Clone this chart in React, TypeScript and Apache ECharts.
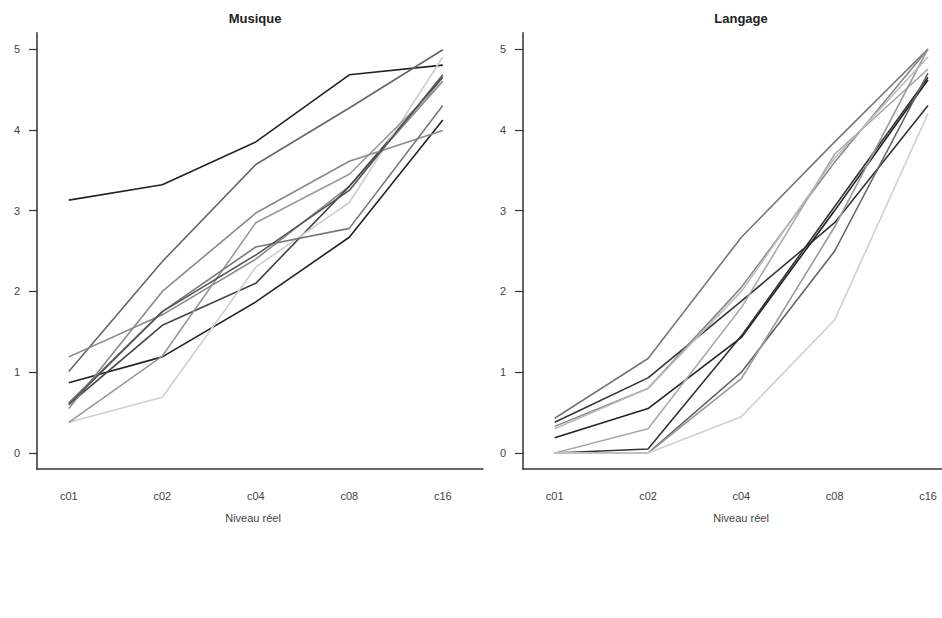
import React, { useEffect, useRef } from "react";
import * as echarts from "echarts";

const categories = ["c01", "c02", "c04", "c08", "c16"];
const yTicks = [0, 1, 2, 3, 4, 5];

// Musique panel: one array per line (values at c01, c02, c04, c08, c16)
const musiqueSeries: number[][] = [
  [3.13, 3.32, 3.85, 4.68, 4.8],
  [1.01, 2.37, 3.57, 4.27, 4.99],
  [1.19, 1.71, 2.4, 3.3, 4.6],
  [0.87, 1.19, 1.87, 2.67, 4.12],
  [0.6, 1.58, 2.1, 3.3, 4.65],
  [0.38, 0.69, 2.3, 3.1, 4.9],
  [0.38, 1.2, 2.85, 3.45, 4.6],
  [0.55, 2.0, 2.97, 3.61, 3.99],
  [0.62, 1.75, 2.55, 2.78, 4.3],
  [0.6, 1.75, 2.45, 3.25, 4.68],
];
const musiqueColors = ["#222", "#666", "#888", "#222", "#444", "#cfcfcf", "#999", "#8a8a8a", "#777", "#555"];

// Langage panel
const langageSeries: number[][] = [
  [0.43, 1.17, 2.67, 3.85, 5.0],
  [0.38, 0.93, 1.88, 2.85, 4.3],
  [0.19, 0.55, 1.43, 3.0, 4.62],
  [0.33, 0.8, 2.05, 3.6, 5.0],
  [0.0, 0.3, 1.8, 3.7, 4.75],
  [0.0, 0.05, 1.45, 3.05, 4.65],
  [0.0, 0.0, 1.0, 2.5, 4.7],
  [0.0, 0.0, 0.92, 2.8, 5.0],
  [0.0, 0.0, 0.45, 1.65, 4.2],
  [0.3, 0.8, 2.0, 3.65, 4.9],
];
const langageColors = ["#777", "#333", "#222", "#888", "#aaa", "#333", "#666", "#999", "#d0d0d0", "#bbb"];

const panelTitles = ["Musique", "Langage"];
const xAxisTitle = "Niveau réel";

export default function App() {
  const ref = useRef<HTMLDivElement>(null);
  useEffect(() => {
    if (!ref.current) return;
    const chart = echarts.init(ref.current, undefined, { renderer: "svg" });
    const font = "Liberation Sans, Arial, sans-serif";
    const axisColor = "#333";
    const gridDefs = [
      { left: 37, top: 32.8, width: 446, height: 436.4 },
      { left: 523, top: 32.8, width: 419, height: 436.4 },
    ];
    const xMax = [5.43, 5.15];
    const xAxes = gridDefs.map((_, i) => ({
      type: "value",
      gridIndex: i,
      min: 0.66,
      max: xMax[i],
      splitLine: { show: false },
      axisLine: { show: true, onZero: false, lineStyle: { color: axisColor, width: 1.5 } },
      axisTick: { show: false },
      axisLabel: {
        customValues: [1, 2, 3, 4, 5],
        formatter: (v: number) => categories[Math.round(v) - 1] ?? "",
        color: "#444",
        fontFamily: font,
        fontSize: 11,
        margin: 21,
      },
    }));
    const yAxes = gridDefs.map((_, i) => ({
      type: "value",
      gridIndex: i,
      min: -0.2,
      max: 5.2,
      splitLine: { show: false },
      axisLine: { show: true, onZero: false, lineStyle: { color: axisColor, width: 1.5 } },
      axisTick: { show: true, customValues: yTicks, length: 8, lineStyle: { color: axisColor, width: 1.2 } },
      axisLabel: {
        customValues: yTicks,
        color: "#444",
        fontFamily: font,
        fontSize: 11,
        margin: 17,
      },
    }));
    const mk = (arr: number[][], colors: string[], idx: number) =>
      arr.map((vals, k) => ({
        type: "line",
        xAxisIndex: idx,
        yAxisIndex: idx,
        symbol: "none",
        silent: true,
        data: vals.map((v, j) => [j + 1, v]),
        lineStyle: { color: colors[k], width: 1.6 },
        itemStyle: { color: colors[k] },
      }));
    chart.setOption({
      animation: false,
      backgroundColor: "#fff",
      grid: gridDefs,
      xAxis: xAxes,
      yAxis: yAxes,
      series: [...mk(musiqueSeries, musiqueColors, 0), ...mk(langageSeries, langageColors, 1)],
      graphic: [
        { type: "text", x: 255, y: 18, style: { text: panelTitles[0], font: `bold 13px ${font}`, fill: "#222", align: "center", verticalAlign: "middle" } },
        { type: "text", x: 741, y: 18, style: { text: panelTitles[1], font: `bold 13px ${font}`, fill: "#222", align: "center", verticalAlign: "middle" } },
        { type: "text", x: 253, y: 518, style: { text: xAxisTitle, font: `11px ${font}`, fill: "#444", align: "center", verticalAlign: "middle" } },
        { type: "text", x: 741, y: 518, style: { text: xAxisTitle, font: `11px ${font}`, fill: "#444", align: "center", verticalAlign: "middle" } },
      ],
    });
    return () => chart.dispose();
  }, []);
  return <div ref={ref} style={{ position: "fixed", left: 0, top: 0, width: 942, height: 618 }} />;
}
